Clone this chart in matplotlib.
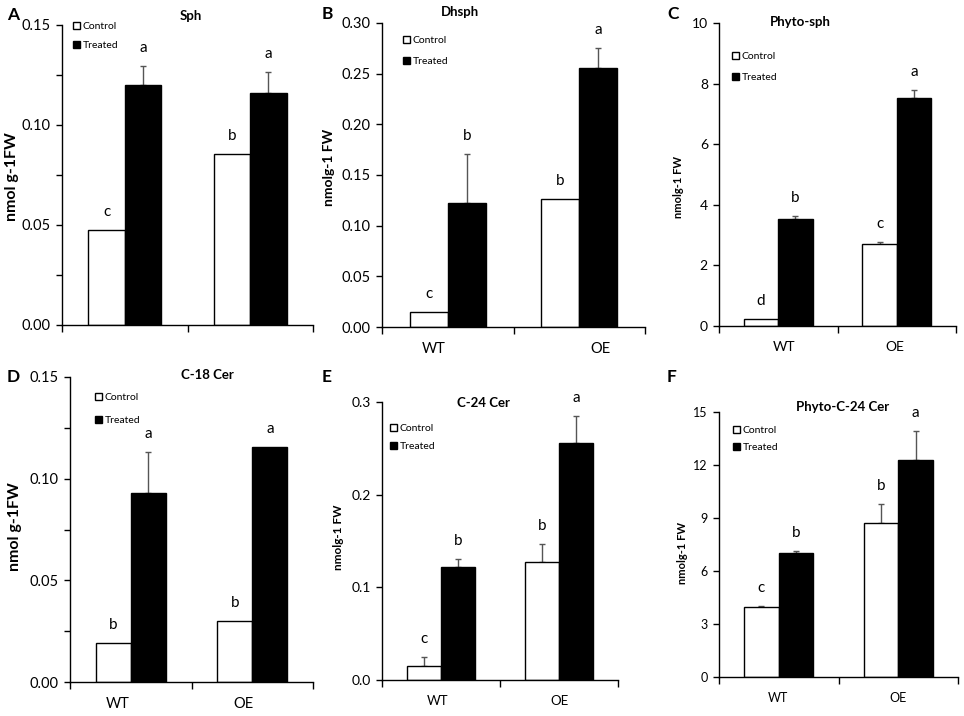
import matplotlib
matplotlib.use('Agg')
import matplotlib.pyplot as plt
from matplotlib.patches import Patch
from matplotlib.ticker import MultipleLocator, FormatStrFormatter
import numpy as np

plt.rcParams['font.family'] = ['Lato', 'DejaVu Sans']

groups = ['WT', 'OE']
series_names = ['Control', 'Treated']

# Panel A: Sph
sph_ctrl = [0.0475, 0.0853]
sph_ctrl_err = [0.0, 0.0]
sph_trt = [0.120, 0.1162]
sph_trt_err = [0.0097, 0.0101]
sph_ctrl_let = ['c', 'b']
sph_trt_let = ['a', 'a']

# Panel B: Dhsph
dhsph_ctrl = [0.0148, 0.126]
dhsph_ctrl_err = [0.0, 0.0]
dhsph_trt = [0.122, 0.2555]
dhsph_trt_err = [0.049, 0.0195]
dhsph_ctrl_let = ['c', 'b']
dhsph_trt_let = ['b', 'a']

# Panel C: Phyto-sph
phsph_ctrl = [0.22, 2.70]
phsph_ctrl_err = [0.0, 0.08]
phsph_trt = [3.52, 7.54]
phsph_trt_err = [0.12, 0.26]
phsph_ctrl_let = ['d', 'c']
phsph_trt_let = ['b', 'a']

# Panel D: C-18 Cer
c18_ctrl = [0.0191, 0.0301]
c18_ctrl_err = [0.0, 0.0]
c18_trt = [0.0931, 0.1155]
c18_trt_err = [0.0201, 0.0]
c18_ctrl_let = ['b', 'b']
c18_trt_let = ['a', 'a']

# Panel E: C-24 Cer
c24_ctrl = [0.0151, 0.1268]
c24_ctrl_err = [0.0101, 0.0202]
c24_trt = [0.122, 0.2557]
c24_trt_err = [0.009, 0.0293]
c24_ctrl_let = ['c', 'b']
c24_trt_let = ['b', 'a']

# Panel F: Phyto-C-24 Cer
pc24_ctrl = [3.94, 8.72]
pc24_ctrl_err = [0.06, 1.09]
pc24_trt = [7.02, 12.26]
pc24_trt_err = [0.13, 1.64]
pc24_ctrl_let = ['c', 'b']
pc24_trt_let = ['b', 'a']

W, H = 964, 716
fig = plt.figure(figsize=(W / 100, H / 100), dpi=100)


def px_rect(l, r, t, b):
    return [l / W, 1 - b / H, (r - l) / W, (b - t) / H]


def draw_panel(rect, title, title_xy, letter, letter_xy, ylabel, ylabel_xy, ylabel_fs,
               ctrl, ctrl_err, trt, trt_err, cl, tl, ymax, major, minor, fmt,
               tick_fs, xlab_pos, xlab_fs, leg_xy, leg_sp):
    ax = fig.add_axes(rect)
    x = np.arange(len(groups))
    bw = 0.29
    ax.bar(x - bw / 2, ctrl, bw, facecolor='white', edgecolor='black', linewidth=1.0, zorder=2)
    ax.bar(x + bw / 2, trt, bw, facecolor='black', edgecolor='black', linewidth=1.0, zorder=2)
    for xs, vals, errs in ((x - bw / 2, ctrl, ctrl_err), (x + bw / 2, trt, trt_err)):
        for xi, v, e in zip(xs, vals, errs):
            if e > 0:
                ax.errorbar([xi], [v], yerr=[[0], [e]], fmt='none', ecolor='#555555',
                            elinewidth=1.0, capsize=2, capthick=1.0, zorder=1)
    for xs, vals, errs, lets in ((x - bw / 2, ctrl, ctrl_err, cl), (x + bw / 2, trt, trt_err, tl)):
        for xi, v, e, s in zip(xs, vals, errs, lets):
            ax.annotate(s, (xi, v + e), xytext=(0, 13), textcoords='offset points',
                        ha='center', va='center', fontsize=11)
    ax.set_xlim(-0.5, 1.5)
    ax.set_ylim(0, ymax)
    for s in ('top', 'right'):
        ax.spines[s].set_visible(False)
    for s in ('left', 'bottom'):
        ax.spines[s].set_linewidth(1.0)
    ax.yaxis.set_major_locator(MultipleLocator(major))
    if minor:
        ax.yaxis.set_minor_locator(MultipleLocator(minor))
        ax.tick_params(axis='y', which='minor', length=4, width=1.0, direction='out')
    ax.yaxis.set_major_formatter(FormatStrFormatter(fmt))
    ax.tick_params(axis='y', which='major', length=4, width=1.0, direction='out',
                   labelsize=tick_fs, pad=4)
    ax.set_xticks([-0.5, 0.5, 1.5], minor=True)
    ax.tick_params(axis='x', which='minor', length=5, width=1.0, direction='out')
    if xlab_pos is not None:
        ax.set_xticks(xlab_pos)
        ax.set_xticklabels(groups)
        ax.tick_params(axis='x', which='major', length=0, labelsize=xlab_fs, pad=11)
    else:
        ax.set_xticks([])
    ax.text(title_xy[0], title_xy[1], title, transform=ax.transAxes, ha='center',
            va='center', fontsize=9.5, fontweight='bold')
    handles = [Patch(facecolor='white', edgecolor='black', linewidth=1.0),
               Patch(facecolor='black', edgecolor='black', linewidth=1.0)]
    ax.legend(handles, series_names, loc='upper left', bbox_to_anchor=leg_xy,
              frameon=False, fontsize=7.5, handlelength=0.7, handleheight=0.7,
              handletextpad=0.25, labelspacing=leg_sp, borderpad=0, borderaxespad=0)
    fig.text(letter_xy[0] / W, 1 - letter_xy[1] / H, letter, ha='center', va='center',
             fontsize=12.5, fontweight='bold')
    fig.text(ylabel_xy[0] / W, 1 - ylabel_xy[1] / H, ylabel, ha='center', va='center',
             rotation=90, fontsize=ylabel_fs, fontweight='bold')
    return ax


draw_panel(px_rect(62, 313, 25, 325), 'Sph', (0.514, 1.03), 'A', (13, 15),
           'nmol g-1FW', (12, 177), 11.5,
           sph_ctrl, sph_ctrl_err, sph_trt, sph_trt_err, sph_ctrl_let, sph_trt_let,
           0.15, 0.05, 0.025, '%.2f', 10.5, None, 10, (0.044, 1.01), 0.95)

draw_panel(px_rect(382, 645, 23, 327), 'Dhsph', (0.297, 1.036), 'B', (327, 14),
           'nmolg-1 FW', (329, 167), 10,
           dhsph_ctrl, dhsph_ctrl_err, dhsph_trt, dhsph_trt_err, dhsph_ctrl_let, dhsph_trt_let,
           0.30, 0.05, None, '%.2f', 10.5, [-0.105, 1.165], 10.5, (0.08, 0.958), 1.1)

draw_panel(px_rect(719, 956, 23, 326), 'Phyto-sph', (0.342, 1.003), 'C', (673, 14),
           'nmolg-1 FW', (678, 187), 8,
           phsph_ctrl, phsph_ctrl_err, phsph_trt, phsph_trt_err, phsph_ctrl_let, phsph_trt_let,
           10, 2, None, '%d', 10, [0.05, 0.985], 10, (0.055, 0.905), 1.1)

draw_panel(px_rect(70, 313, 377, 682), 'C-18 Cer', (0.564, 1.007), 'D', (13, 377),
           'nmol g-1FW', (15, 527), 11.5,
           c18_ctrl, c18_ctrl_err, c18_trt, c18_trt_err, c18_ctrl_let, c18_trt_let,
           0.15, 0.05, 0.025, '%.2f', 10.5, [-0.105, 0.924], 10.5, (0.103, 0.948), 1.3)

draw_panel(px_rect(382, 618, 402, 680), 'C-24 Cer', (0.428, 0.996), 'E', (327, 377),
           'nmolg-1 FW', (338, 537), 8.5,
           c24_ctrl, c24_ctrl_err, c24_trt, c24_trt_err, c24_ctrl_let, c24_trt_let,
           0.3, 0.1, None, '%.1f', 10, [-0.025, 1.008], 9.5, (0.034, 0.922), 0.85)

draw_panel(px_rect(719, 958, 412, 677), 'Phyto-C-24 Cer', (0.519, 1.019), 'F', (672, 377),
           'nmolg-1 FW', (683, 553), 8,
           pc24_ctrl, pc24_ctrl_err, pc24_trt, pc24_trt_err, pc24_ctrl_let, pc24_trt_let,
           15, 3, None, '%d', 9, [-0.006, 0.998], 9, (0.059, 0.948), 0.75)

fig.savefig('out.png', dpi=100)
